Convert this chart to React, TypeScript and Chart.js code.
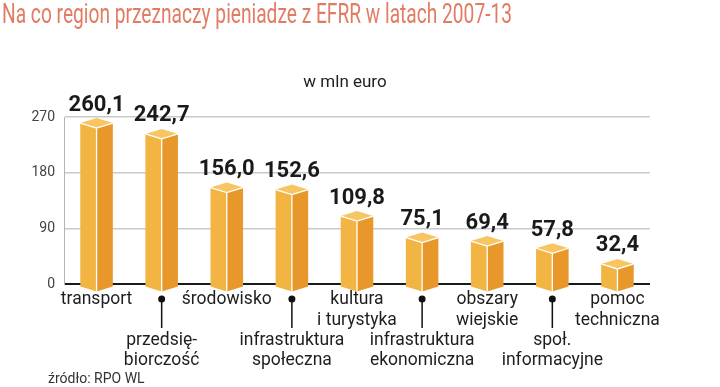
import React, { useEffect, useRef } from "react";
import { Chart, registerables } from "chart.js";

Chart.register(...registerables);

const TITLE = "Na co region przeznaczy pieniadze z EFRR w latach 2007-13";
const UNIT = "w mln euro";
const SOURCE = "źródło: RPO WL";

const categories: string[][] = [
  ["transport"],
  ["przedsię-", "biorczość"],
  ["środowisko"],
  ["infrastruktura", "społeczna"],
  ["kultura", "i turystyka"],
  ["infrastruktura", "ekonomiczna"],
  ["obszary", "wiejskie"],
  ["społ.", "informacyjne"],
  ["pomoc", "techniczna"],
];
const values = [260.1, 242.7, 156.0, 152.6, 109.8, 75.1, 69.4, 57.8, 32.4];
const yTicks = [0, 90, 180, 270];

const FONT = "Roboto, 'Liberation Sans', sans-serif";
const COLOR_LEFT = "#f2b442";
const COLOR_RIGHT = "#e8982b";
const COLOR_TOP = "#f7c562";
const TITLE_COLOR = "#e27b63";

const isLower = (i: number) => i % 2 === 1;
const fmt = (v: number) => v.toFixed(1).replace(".", ",");

const boxPlugin = {
  id: "box3d",
  afterDatasetsDraw(chart: any) {
    const ctx = chart.ctx;
    const meta = chart.getDatasetMeta(0);
    ctx.save();
    meta.data.forEach((el: any, i: number) => {
      const cx = el.x;
      const half = el.width / 2;
      const yv = el.y;
      const bs = el.base + 3.5;
      const d = 5;
      // left face
      ctx.beginPath();
      ctx.moveTo(cx - half, yv);
      ctx.lineTo(cx, yv + d);
      ctx.lineTo(cx, bs + d);
      ctx.lineTo(cx - half, bs);
      ctx.closePath();
      ctx.fillStyle = COLOR_LEFT;
      ctx.fill();
      // right face
      ctx.beginPath();
      ctx.moveTo(cx + half, yv);
      ctx.lineTo(cx, yv + d);
      ctx.lineTo(cx, bs + d);
      ctx.lineTo(cx + half, bs);
      ctx.closePath();
      ctx.fillStyle = COLOR_RIGHT;
      ctx.fill();
      // top
      ctx.beginPath();
      ctx.moveTo(cx - half, yv);
      ctx.lineTo(cx, yv - d);
      ctx.lineTo(cx + half, yv);
      ctx.lineTo(cx, yv + d);
      ctx.closePath();
      ctx.fillStyle = COLOR_TOP;
      ctx.fill();
      // white edges
      ctx.strokeStyle = "#ffffff";
      ctx.lineWidth = 1.3;
      ctx.beginPath();
      ctx.moveTo(cx - half, yv);
      ctx.lineTo(cx, yv + d);
      ctx.lineTo(cx + half, yv);
      ctx.moveTo(cx, yv + d);
      ctx.lineTo(cx, bs + d);
      ctx.stroke();
      // value label
      ctx.fillStyle = "#1a1a1a";
      ctx.font = `bold 22px ${FONT}`;
      ctx.textAlign = "center";
      ctx.textBaseline = "middle";
      ctx.fillText(fmt(values[i]), cx, yv - 18);
      // leader for lower labels
      if (isLower(i)) {
        ctx.fillStyle = "#111";
        ctx.beginPath();
        ctx.arc(cx, 299, 3.5, 0, Math.PI * 2);
        ctx.fill();
        ctx.strokeStyle = "#111";
        ctx.lineWidth = 1.5;
        ctx.beginPath();
        ctx.moveTo(cx, 299);
        ctx.lineTo(cx, 328);
        ctx.stroke();
      }
    });
    ctx.restore();
  },
  afterDraw(chart: any) {
    const ctx = chart.ctx;
    const area = chart.chartArea;
    ctx.save();
    // title
    ctx.font = `28px ${FONT}`;
    ctx.fillStyle = TITLE_COLOR;
    ctx.textAlign = "left";
    ctx.textBaseline = "alphabetic";
    const w = ctx.measureText(TITLE).width;
    ctx.translate(2, 23);
    ctx.scale(510 / w, 1);
    ctx.fillText(TITLE, 0, 0);
    ctx.restore();
    ctx.save();
    ctx.font = `17px ${FONT}`;
    ctx.fillStyle = "#222";
    ctx.textAlign = "center";
    ctx.textBaseline = "middle";
    ctx.fillText(UNIT, (area.left + area.right) / 2 - 12, 83);
    ctx.font = `14px ${FONT}`;
    ctx.fillStyle = "#333";
    ctx.textAlign = "left";
    ctx.fillText(SOURCE, 48, 379);
    ctx.restore();
  },
};

export default function App() {
  const ref = useRef<HTMLCanvasElement>(null);
  useEffect(() => {
    if (!ref.current) return;
    const chart = new Chart(ref.current, {
      type: "bar",
      data: {
        labels: categories.map((c) => c.join(" ")),
        datasets: [
          {
            data: values,
            backgroundColor: "rgba(0,0,0,0)",
            borderWidth: 0,
            barPercentage: 0.5,
            categoryPercentage: 1,
          },
        ],
      },
      options: {
        responsive: false,
        animation: false,
        layout: { padding: { top: 117, right: 70, bottom: 0, left: 0 } },
        plugins: {
          legend: { display: false },
          tooltip: { enabled: false },
          title: { display: false },
        },
        scales: {
          x: {
            grid: { display: false, drawTicks: false },
            border: { display: false },
            afterFit: (s: any) => {
              s.height = 103;
            },
            ticks: {
              autoSkip: false,
              maxRotation: 0,
              minRotation: 0,
              padding: 6,
              color: "#1e1e1e",
              font: { family: FONT, size: 17.5, lineHeight: 1.15 },
              callback: (_v: any, i: number) =>
                isLower(i) ? ["", "", ...categories[i]] : categories[i],
            },
          },
          y: {
            min: 0,
            max: 270,
            afterFit: (s: any) => {
              s.width = 64;
            },
            afterBuildTicks: (s: any) => {
              s.ticks = yTicks.map((v) => ({ value: v }));
            },
            grid: {
              drawTicks: false,
              color: (c: any) => (c.tick && c.tick.value === 0 ? "#1a1a1a" : "#c9c9c9"),
              lineWidth: (c: any) => (c.tick && c.tick.value === 0 ? 2 : 1.5),
            },
            border: { display: true, color: "#b5b5b5", width: 1 },
            ticks: {
              padding: 9,
              color: "#444",
              font: { family: FONT, size: 14 },
            },
          },
        },
      },
      plugins: [boxPlugin],
    } as any);
    return () => chart.destroy();
  }, []);
  return (
    <div style={{ position: "fixed", left: 0, top: 0, width: 720, height: 387, background: "#fff" }}>
      <canvas ref={ref} width={720} height={387} />
    </div>
  );
}
